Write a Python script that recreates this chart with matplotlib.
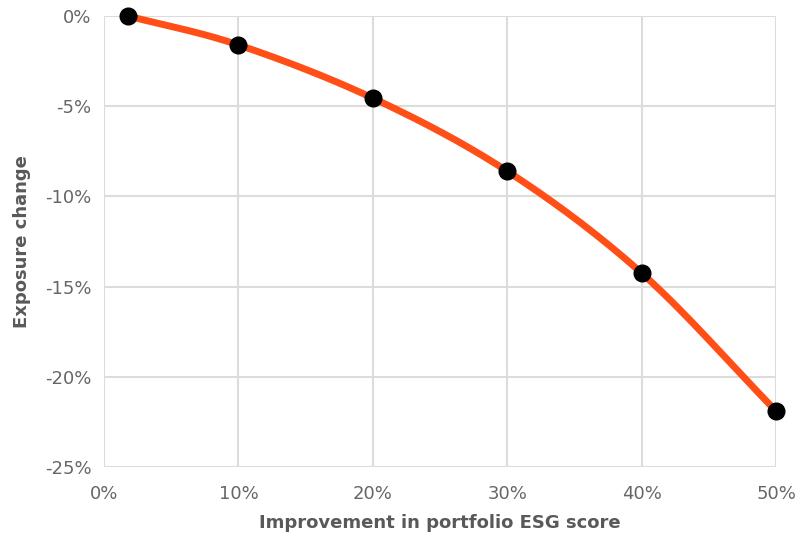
import matplotlib.pyplot as plt
from matplotlib.ticker import FuncFormatter
import numpy as np

# improvement in ESG score (%) and resulting exposure change (%)
esg_improvement = [1.8, 10, 20, 30, 40, 50]
exposure_change = [0.0, -1.6, -4.55, -8.6, -14.25, -21.9]

x_ticks = [0, 10, 20, 30, 40, 50]
y_ticks = [0, -5, -10, -15, -20, -25]


def smooth_curve(xs, ys, n=30):
    """Catmull-Rom smoothing like a spreadsheet 'smoothed line'."""
    p = np.column_stack([xs, ys]).astype(float)
    p = np.vstack([2 * p[0] - p[1], p, 2 * p[-1] - p[-2]])
    out = []
    t = np.linspace(0, 1, n)[:, None]
    for i in range(1, len(p) - 2):
        p0, p1, p2, p3 = p[i - 1], p[i], p[i + 1], p[i + 2]
        seg = 0.5 * ((2 * p1) + (-p0 + p2) * t
                     + (2 * p0 - 5 * p1 + 4 * p2 - p3) * t ** 2
                     + (-p0 + 3 * p1 - 3 * p2 + p3) * t ** 3)
        out.append(seg)
    out = np.vstack(out)
    return out[:, 0], out[:, 1]


fig = plt.figure(figsize=(8.02, 5.35), dpi=100)
ax = fig.add_axes([0.1297, 0.127, 0.838, 0.843])

sx, sy = smooth_curve(esg_improvement, exposure_change)
ax.plot(sx, sy, color="#FF4F17", lw=5, solid_capstyle="round", zorder=3, clip_on=False)
ax.plot(esg_improvement, exposure_change, "o", color="black", ms=12, zorder=4, clip_on=False)

ax.set_xlim(0, 50)
ax.set_ylim(-25, 0)
ax.set_xticks(x_ticks)
ax.set_yticks(y_ticks)
pct = FuncFormatter(lambda v, _: f"{v:.0f}%")
ax.xaxis.set_major_formatter(pct)
ax.yaxis.set_major_formatter(pct)

ax.grid(True, color="#dcdcdc", lw=1.5)
ax.set_axisbelow(True)
for s in ax.spines.values():
    s.set_visible(False)
ax.tick_params(length=0, labelsize=13, labelcolor="#666666")
ax.tick_params(axis="x", pad=13)
ax.tick_params(axis="y", pad=9)

ax.set_xlabel("Improvement in portfolio ESG score", fontsize=13, fontweight="bold",
              color="#595959", labelpad=8)
ax.set_ylabel("Exposure change", fontsize=13, fontweight="bold", color="#595959", labelpad=10)

plt.savefig("out.png", dpi=100)
plt.close()
